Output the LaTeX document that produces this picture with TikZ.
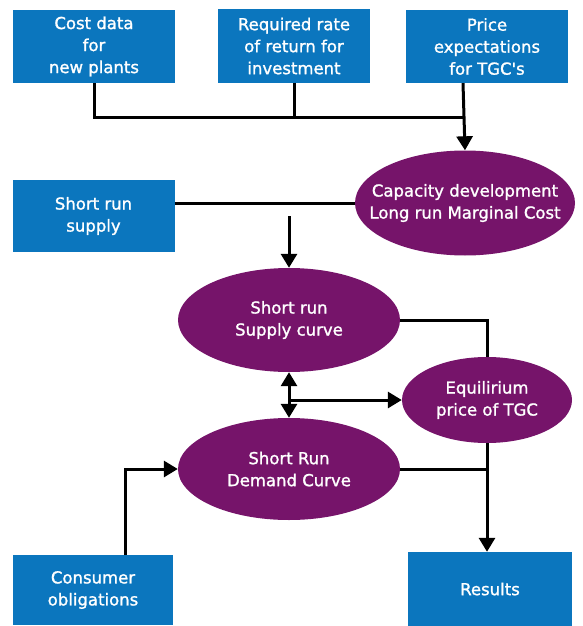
\documentclass[tikz,border=0pt]{standalone}
\usepackage{fontspec}
\setmainfont{DejaVu Sans}[FakeBold=1.3]
\usetikzlibrary{arrows.meta, shapes.geometric}

\definecolor{boxblue}{RGB}{11,118,190}
\definecolor{ovalpurple}{RGB}{118,20,106}

\tikzset{
  inbox/.style={rectangle, fill=boxblue, text=white, align=center,
    minimum width=162pt, minimum height=73pt, inner sep=2pt},
  oval/.style={ellipse, fill=ovalpurple, text=white, align=center, inner sep=0pt},
  link/.style={line width=3pt, -{Triangle[length=14pt,width=16pt]}},
  plain/.style={line width=3pt},
}

\begin{document}
\begin{tikzpicture}[x=1pt, y=-1pt, font=\fontsize{16.5}{22}\selectfont]
\useasboundingbox (0,0) rectangle (582,626);

% Input boxes on top
\node[inbox] (cost)  at (94,46.5) {Cost data\\for\\new plants};
\node[inbox, minimum width=152pt] (req) at (294,46) {Required rate\\of return for\\investment};
\node[inbox] (price) at (487,46.5) {Price\\expectations\\for TGC\textquotesingle s};

% Side boxes
\node[inbox, minimum height=72pt] (srs)  at (93.5,216) {Short run\\supply};
\node[inbox, minimum width=160pt, minimum height=70pt] (cons) at (93,590) {Consumer\\obligations};
\node[inbox, minimum width=164pt, minimum height=74pt] (res)  at (490,589) {Results};

% Ellipses
\node[oval, inner xsep=-45pt, inner ysep=-10pt, minimum width=220pt, minimum height=105pt] (capa) at (465,203) {Capacity development\\Long run Marginal Cost};
\node[oval, minimum width=222pt, minimum height=104pt] (supc) at (289,320) {Short run\\Supply curve};
\node[oval, minimum width=170pt, minimum height=86pt]  (equ)  at (487,400) {Equilirium\\price of TGC};
\node[oval, minimum width=222pt, minimum height=102pt] (dem)  at (289,469) {Short Run\\Demand Curve};

% Joints
\coordinate (join) at (463,117);
\coordinate (cfoot) at (125,555);

% Top inputs into capacity development
\draw[plain] (cost.south) |- (join);
\draw[plain] (req.south) -- (req.south |- join);
\draw[link] (price.south -| join) -- (capa.north);

% Supply side
\draw[plain] (srs.east |- capa.west) -- (capa.west);
\draw[link] (srs.east -| supc.north) -- (supc.north);
\draw[plain] (supc.east) -| (equ.north);

% Supply vs demand, to equilibrium
\draw[line width=3pt, {Triangle[length=14pt,width=16pt]}-{Triangle[length=14pt,width=16pt]}] (supc.south) -- (dem.north);
\draw[link] (supc.south |- equ.west) -- (equ.west);

% Demand side and results
\draw[link] (cfoot) |- (dem.west);
\draw[plain] (dem.east) -- (dem.east -| equ.south);
\draw[link] (equ.south) -- (equ.south |- res.north);

\end{tikzpicture}
\end{document}
